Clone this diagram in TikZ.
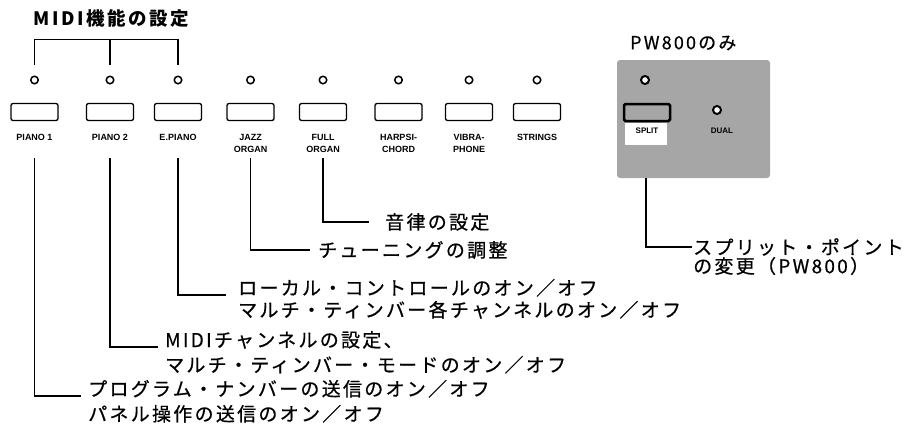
\documentclass[tikz,border=0pt]{standalone}
\usepackage{fontspec}
\setmainfont{Liberation Sans}
\newfontfamily\jp[LetterSpace=12,FakeBold=0.6]{Noto Sans CJK JP}
\newfontfamily\jpt[LetterSpace=14]{Noto Sans CJK JP}
\newfontfamily\jpp[LetterSpace=12,FakeBold=0.5]{Noto Sans CJK JP}
\begin{document}
\begin{tikzpicture}[x=1pt,y=-1pt,
  ln/.style={line width=1.3pt},
  led/.style={circle, draw, line width=1.5pt, minimum size=7.5pt, inner sep=0pt, fill=white},
  btn/.style={draw, line width=1.3pt, rounded corners=2pt, minimum width=47pt, minimum height=17pt, inner sep=0pt},
  lbl/.style={font=\fontsize{9}{12}\selectfont\bfseries, align=center, anchor=north, inner sep=0pt},
  jtxt/.style={font=\jp\fontsize{19}{22}\selectfont, inner sep=0pt},
  jtitle/.style={font=\jpt\bfseries\fontsize{18.5}{20}\selectfont, inner sep=0pt},
  jtitleb/.style={font=\jpp\fontsize{18}{20}\selectfont, inner sep=0pt},
  panel/.style={fill=black!35, rounded corners=3pt, minimum width=153pt, minimum height=118pt, inner sep=0pt}
  ]
\useasboundingbox (0,0) rectangle (907,426);

% title and bracket
\node[jtitle, anchor=west] (title) at (33,18) {MIDI機能の設定};

% LEDs, buttons, labels
\foreach \i/\x/\t in {1/34.5/{PIANO 1},2/110/{PIANO 2},3/178/{E.PIANO},4/250.5/{JAZZ\\ORGAN},5/323/{FULL\\ORGAN},6/398.5/{HARPSI-\\CHORD},7/469/{VIBRA-\\PHONE},8/537/{STRINGS}}{
  \node[led] (l\i) at (\x,80) {};
  \node[btn] (b\i) at (\x,112) {};
  \node[lbl] (t\i) at (\x,134) {\t};
}

\draw[ln] ([yshift=11pt]l1.north) -- ([yshift=36pt]l1.north) -| ([yshift=11pt]l3.north);
\draw[ln] ([yshift=11pt]l2.north) -- ([yshift=36pt]l2.north);

% descriptions
\coordinate (lvl) at (0,158);
\node[jtxt, anchor=base west] (d1a) at (88,396) {プログラム・ナンバーの送信のオン／オフ};
\node[jtxt, anchor=base west] (d1b) at (88,421) {パネル操作の送信のオン／オフ};
\node[jtxt, anchor=base west] (d2a) at (165,347) {MIDIチャンネルの設定、};
\node[jtxt, anchor=base west] (d2b) at (165,372) {マルチ・ティンバー・モードのオン／オフ};
\node[jtxt, anchor=base west] (d3a) at (238,295) {ローカル・コントロールのオン／オフ};
\node[jtxt, anchor=base west] (d3b) at (238,317) {マルチ・ティンバー各チャンネルのオン／オフ};
\node[jtxt, anchor=west] (d4) at (318,250) {チューニングの調整};
\node[jtxt, anchor=west] (d5) at (385,222) {音律の設定};

\draw[ln] (t1.south |- lvl) |- ([xshift=-7pt]d1a.base west);
\draw[ln] (t2.south |- lvl) |- ([xshift=-7pt]d2a.base west);
\draw[ln] (t3.south |- lvl) |- ([xshift=-12pt]d3a.base west);
\draw[ln] (t4.south |- lvl) |- ([xshift=-8pt]d4.west);
\draw[ln] (t5.south |- lvl) |- ([xshift=-16pt]d5.west);

% PW800 panel
\node[jtitleb, anchor=west] (pw) at (630,43) {PW800のみ};
\node[panel] (panel) at (693.5,119) {};
\node[fill=white, minimum width=42pt, minimum height=22pt, inner sep=0pt] (splitbg) at (646,134) {};
\node[font=\fontsize{8}{10}\selectfont\bfseries, inner sep=0pt] (splitlbl) at (647,131) {SPLIT};
\node[font=\fontsize{8}{10}\selectfont\bfseries, inner sep=0pt] (duallbl) at (722,131) {DUAL};
\node[led, minimum size=8pt, line width=2pt] (sl1) at (645,80) {};
\node[led, minimum size=8pt, line width=2pt] (sl2) at (717,110) {};
\node[draw, line width=2.5pt, rounded corners=1.5pt, minimum width=46pt, minimum height=17pt, inner sep=0pt] (sb) at (647,112.5) {};

\node[jtxt, anchor=west] (s1) at (693,247) {スプリット・ポイント};
\node[jtxt, anchor=west] (s2) at (693,266) {の変更（PW800）};
\draw[ln] (splitbg.south |- panel.south) |- ([xshift=-1pt]s1.west);
\end{tikzpicture}
\end{document}
